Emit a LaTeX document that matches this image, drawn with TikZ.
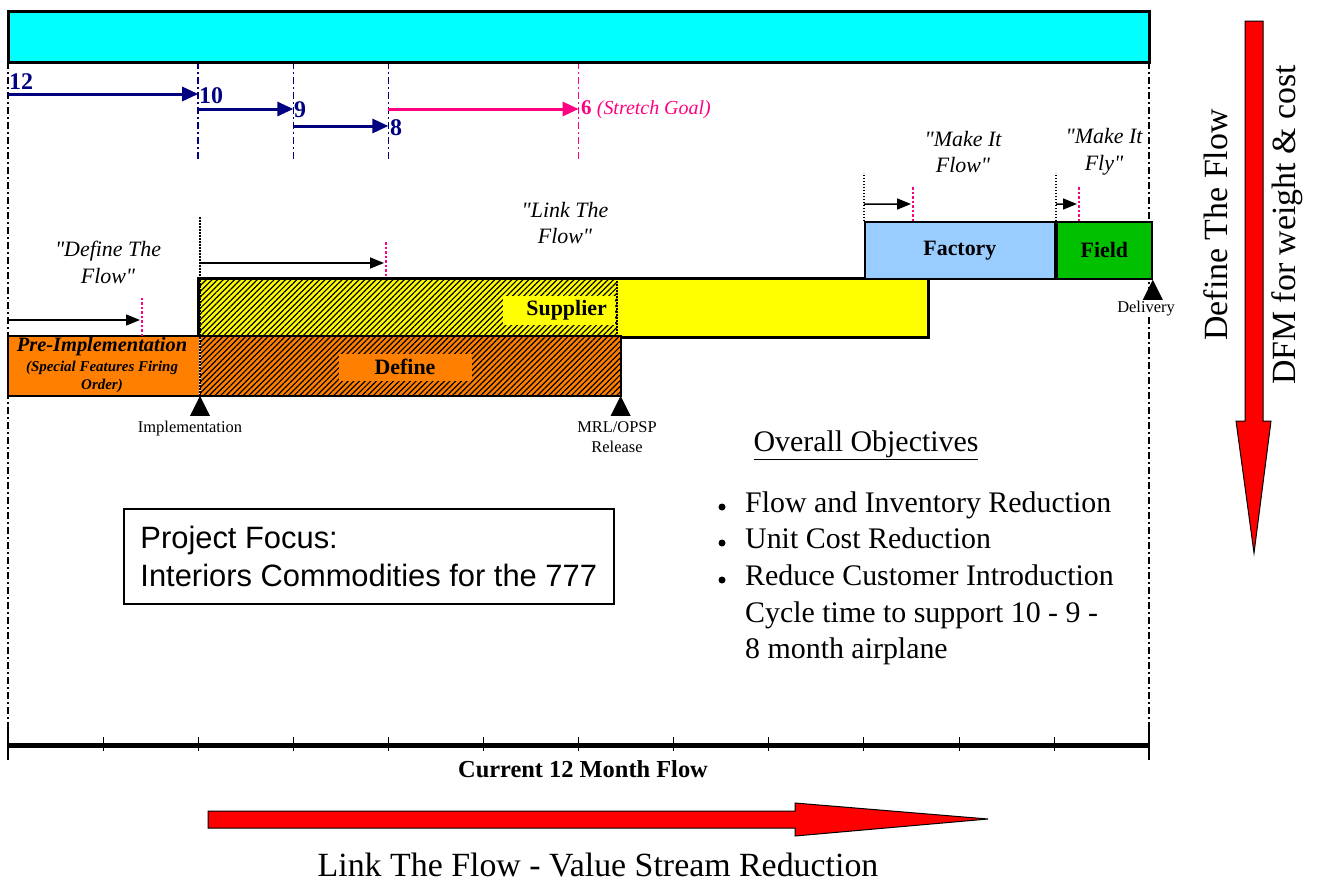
\documentclass[tikz,border=0pt]{standalone}
\usepackage{fontspec}
\setmainfont{Liberation Serif}
\newfontfamily\focusfont{Liberation Sans}
\usetikzlibrary{arrows.meta, patterns.meta, positioning}

\definecolor{barcyan}{RGB}{0,255,255}
\definecolor{monthnavy}{RGB}{0,0,128}
\definecolor{goalpink}{RGB}{255,0,128}
\definecolor{preorange}{RGB}{255,128,0}
\definecolor{suppyellow}{RGB}{255,255,0}
\definecolor{factblue}{RGB}{153,204,255}
\definecolor{fieldgreen}{RGB}{0,192,0}
\definecolor{flowred}{RGB}{255,0,0}

\newcommand{\fsz}[2]{\fontsize{#1}{#2}\selectfont}
\newcommand{\qq}{\textquotedbl}

\tikzset{
  dashdot/.style    = {line width = 1.6bp, dash pattern = on 7bp off 3bp on 2bp off 3bp},
  monthline/.style  = {monthnavy, line width = 3bp, -{Triangle[length = 16bp, width = 14bp]}},
  goalline/.style   = {goalpink, line width = 3bp, -{Triangle[length = 16bp, width = 14bp]}},
  leadline/.style   = {line width = 1.5bp, -{Triangle[length = 14bp, width = 11bp]}},
  pinkdots/.style   = {goalpink, line width = 2.5bp, dash pattern = on 2.5bp off 2bp},
  blackdots/.style  = {line width = 1.3bp, dash pattern = on 1.5bp off 1.5bp},
  phasebox/.style   = {draw, line width = 1.8bp, anchor = north west, inner sep = 0bp,
                       font = \fsz{22}{26}\bfseries},
  hatch/.style      = {pattern = {Lines[angle = 45, distance = 4bp, line width = 1.2bp]},
                       pattern color = black},
  monthlabel/.style = {anchor = west, inner sep = 1bp, text = monthnavy, font = \fsz{24}{28}\bfseries},
  slogan/.style     = {align = center, font = \fsz{22}{27}\itshape},
  milelabel/.style  = {align = center, inner sep = 1bp, font = \fsz{16.5}{20}},
  objline/.style    = {anchor = base west, inner sep = 0bp, font = \fsz{30}{36}},
  sidetext/.style   = {rotate = 90, inner sep = 0bp, font = \fsz{34}{40}},
  bigarrow/.style   = {fill = flowred, draw = black, line width = 1bp}
}

\begin{document}
\begin{tikzpicture}[x = 1bp, y = -1bp]

  \useasboundingbox (0,0) rectangle (1319,882);

  % Month marks: M under the top bar, T on the time line,
  %   twelve months from left to right

  \foreach \m in {0,...,12} {
    \coordinate (M\m) at ({8 + 95.1*\m}, 62);
    \coordinate (T\m) at ({8 + 95.1*\m}, 745);
  }

  % Guide lines hanging from the top bar

  \draw[dashdot] (M0) -- (T0);
  \draw[dashdot] (M12) -- (T12);
  \foreach \m in {2, 3, 4}
    \draw[dashdot, monthnavy] (M\m) -- ++(0, 98);
  \draw[dashdot, goalpink] (M6) -- ++(0, 98);

  % Top bar

  \draw[fill = barcyan, line width = 3bp] (8, 11) rectangle (M12);

  % Month targets 12 - 10 - 9 - 8 and the stretch goal

  \node[monthlabel] (n12) at (8, 82)    {12};
  \node[monthlabel] (n10) at (198, 96)  {10};
  \node[monthlabel] (n9)  at (293, 110) {9};
  \node[monthlabel] (n8)  at (389, 128) {8};
  \node[monthlabel, text = goalpink] (n6) at (580, 110)
    {\fsz{21}{24}6 \fsz{20}{24}\mdseries\itshape (Stretch Goal)};

  \draw[monthline] (M0 |- 0,94)  -- (M2 |- 0,94);
  \draw[monthline] (M2 |- 0,109) -- (M3 |- 0,109);
  \draw[monthline] (M3 |- 0,126) -- (M4 |- 0,126);
  \draw[goalline]  (M4 |- 0,109) -- (M6 |- 0,109);

  % Supplier bar, hatched up to the MRL/OPSP release

  \node[phasebox, fill = suppyellow, minimum width = 729bp, minimum height = 58bp]
    (supplier) at (M2 |- 0,278) {};
  \fill[hatch] (supplier.north west) rectangle (617, 336);
  \draw[line width = 1.8bp] (supplier.north west) rectangle (supplier.south east);
  \draw[blackdots] (617, 278) -- (617, 336);
  \node[fill = suppyellow, anchor = east, text width = 96bp, align = right,
        inner xsep = 8bp, minimum height = 29bp, font = \fsz{22}{26}\bfseries]
    (supplierText) at (615, 310) {Supplier};

  % Pre-Implementation and Define bar

  \node[phasebox, draw = none, fill = preorange, minimum width = 190.2bp, minimum height = 58bp]
    (preimpl) at (8, 336) {};
  \node[phasebox, draw = none, fill = preorange, minimum width = 418.8bp, minimum height = 58bp]
    (define) at (preimpl.north east) {};
  \fill[hatch] (define.north west) rectangle (define.south east);
  \draw[line width = 1.8bp] (preimpl.north west) rectangle (define.south east);
  \draw[blackdots] (preimpl.north east |- 0,217) -- (preimpl.south east);

  \node[font = \fsz{20.5}{24}\bfseries\itshape] (preTitle) at (102, 347) {Pre-Implementation};
  \node[align = center, font = \fsz{15}{18}\bfseries\itshape] (preNote) at (102, 377)
    {(Special Features Firing\\Order)};
  \node[fill = preorange, minimum width = 133bp, minimum height = 27bp, inner sep = 0bp,
        font = \fsz{22}{26}\bfseries] (defineText) at (405, 367) {Define};

  % Factory and Field

  \node[phasebox, fill = factblue, minimum width = 190.2bp, minimum height = 57bp]
    (factory) at (M9 |- 0,221) {Factory};
  \node[phasebox, fill = fieldgreen, minimum width = 95.1bp, minimum height = 57bp]
    (field) at (factory.north east) {Field};

  % Lead arrows over each phase, pink dots mark the target

  \draw[leadline] ([yshift = 16bp]preimpl.north west) -- ++(132, 0);
  \draw[pinkdots] ([xshift = 134bp]preimpl.north west) -- ++(0, -38);

  \draw[leadline] (preimpl.north east |- 0,263) -- (384, 263);
  \draw[pinkdots] (386, 242) -- (386, 278);

  \draw[blackdots] (factory.north west) -- ++(0, -48);
  \draw[leadline] ([yshift = 17bp]factory.north west) -- (911, 204);
  \draw[pinkdots] (913, 187) -- (913, 221);

  \draw[blackdots] (field.north west) -- ++(0, -48);
  \draw[leadline] ([yshift = 17bp]field.north west) -- (1077, 204);
  \draw[pinkdots] (1079, 187) -- (1079, 221);

  % Milestones

  \foreach \pt in {preimpl.south east, define.south east, field.south east}
    \fill (\pt) -- ++(-10, 20) -- ++(20, 0) -- cycle;

  \node[milelabel] (implLabel) at (190, 429) {Implementation};
  \node[milelabel] (mrlLabel)  at (617, 437) {MRL/OPSP\\Release};
  \node[milelabel, fill = white] (delivLabel) at (1146, 309) {Delivery};

  % Phase slogans

  \node[slogan] (defineFlow) at (108, 262)  {\qq Define The\\Flow\qq};
  \node[slogan] (linkFlow)   at (565, 223)  {\qq Link The\\Flow\qq};
  \node[slogan] (makeFlow)   at (963, 152)  {\qq Make It\\Flow\qq};
  \node[slogan] (makeFly)    at (1104, 152) {\qq Make It\\Fly\qq};

  % Project focus

  \node[draw, line width = 1.5bp, anchor = north west, minimum width = 490bp,
        minimum height = 95bp, align = left, font = \focusfont\fsz{31}{38}]
    (focus) at (123, 508) {Project Focus:\\Interiors Commodities for the 777};

  % Overall objectives

  \node[font = \fsz{30}{36}] (objTitle) at (866, 445) {\underline{Overall Objectives}};
  \node[objline] (obj1) at (745, 512) {Flow and Inventory Reduction};
  \node[objline] (obj2) at (745, 548) {Unit Cost Reduction};
  \node[objline] (obj3) at (745, 585) {Reduce Customer Introduction};
  \node[objline] (obj4) at (745, 622) {Cycle time to support 10 - 9 -};
  \node[objline] (obj5) at (745, 658) {8 month airplane};
  \foreach \y in {507, 543, 580}
    \fill (722, \y) circle (3.5bp);

  % Time line with a tick for every month

  \draw[line width = 5bp] (T0) -- (T12);
  \foreach \m in {1,...,11}
    \draw[line width = 1bp] ([yshift = 8bp]T\m) -- ([yshift = -6bp]T\m);
  \foreach \m in {0, 12}
    \draw[line width = 1.5bp] ([yshift = 18bp]T\m) -- ([yshift = -15bp]T\m);

  \node[font = \fsz{24.5}{28}\bfseries] (curFlow) at (583, 769) {Current 12 Month Flow};

  % The two big red arrows

  \draw[bigarrow] (208, 811) -- (795, 811) -- (795, 803) -- (988, 819)
    -- (795, 836) -- (795, 828) -- (208, 828) -- cycle;
  \node[inner sep = 0bp, font = \fsz{34}{40}] (linkValue) at (598, 865)
    {Link The Flow - Value Stream Reduction};

  \draw[bigarrow] (1245, 21) -- (1263, 21) -- (1263, 421) -- (1271, 421)
    -- (1254, 553) -- (1236, 421) -- (1245, 421) -- cycle;
  \node[sidetext] (defineSide) at (1216, 225) {Define The Flow};
  \node[sidetext] (dfmSide)    at (1287, 225) {DFM for weight \& cost};

\end{tikzpicture}
\end{document}
